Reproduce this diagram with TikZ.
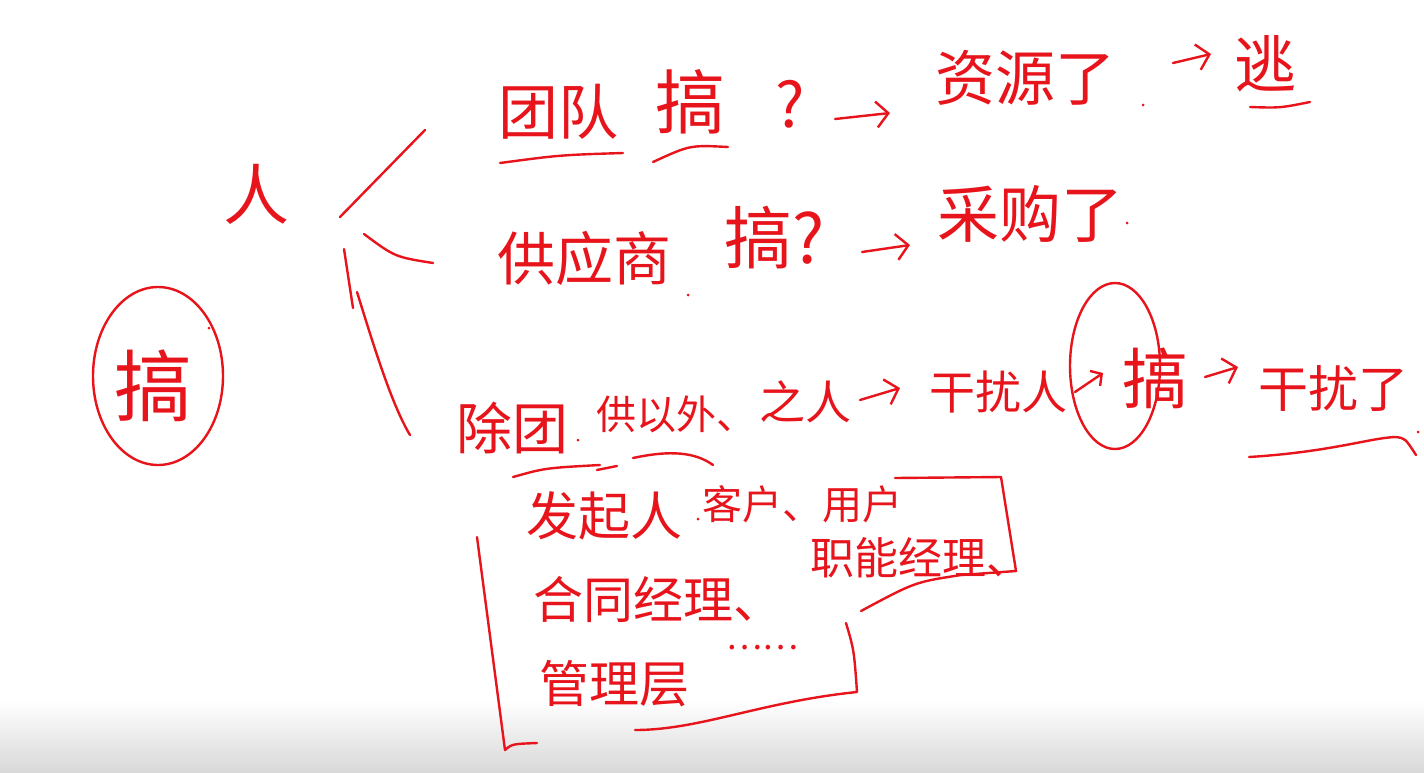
\documentclass[tikz,border=0pt]{standalone}
\usepackage{fontspec}
\newfontfamily\cjk{Noto Sans CJK SC}
\usetikzlibrary{arrows.meta,shapes.geometric}
\definecolor{ink}{HTML}{E8141C}
\begin{document}
\begin{tikzpicture}[x=1pt,y=-1pt,
  txt/.style={inner sep=0pt, text=ink, font=\cjk\fontsize{#1}{#1}\selectfont},
  txt/.default=44,
  stroke/.style={draw=ink, line width=2.4pt, line cap=round, line join=round},
  harrow/.style={stroke, -{Straight Barb[length=12pt,width=26pt,line width=2.4pt]}},
  spot/.style={fill=ink, circle, inner sep=0pt, minimum size=3pt}]
\useasboundingbox (0,0) rectangle (1424,772);
\fill[white] (0,0) rectangle (1424,772);
\shade[top color=white, bottom color=black!15] (0,700) rectangle (1424,772);

% central topic
\node[txt=78] (gao) at (153,386) {搞};
\node[ellipse, stroke, minimum width=130pt, minimum height=178pt] (gaoring) at (158,376) {};
\node[spot] (d0) at (209,328) {};
\node[txt=66] (ren) at (256,194) {人};

% branch strokes
\coordinate (b1s) at (340,217); \coordinate (b1e) at (425,130);
\coordinate (b2s) at (364,234); \coordinate (b2e) at (433,263);
\coordinate (b3s) at (344,249); \coordinate (b3m) at (353,308);
\coordinate (b4s) at (357,292); \coordinate (b3e) at (410,435);
\draw[stroke] (b1s) -- (b1e);
\draw[stroke] (b2s) .. controls (395,257) .. (b2e);
\draw[stroke] (b3s) -- (b3m);
\draw[stroke] (b4s) .. controls (375,350) and (392,405) .. (b3e);

% row 1
\node[txt=60] (td) at (558,112) {团队};
\node[txt=70] (g1) at (690,102) {搞};
\node[txt=62] (q1) at (790,104) {?};
\node[txt=60] (zy) at (1025,78) {资源了};
\node[spot] (d1) at (1143,105) {};
\node[txt=62] (tao) at (1265,64) {逃};
\draw[stroke] (500,163) .. controls (560,155) .. (623,153);
\draw[stroke] (653,162) .. controls (690,145) .. (728,147);
\draw[stroke] (1250,107) .. controls (1280,108) .. (1310,102);
\coordinate (a1s) at (835,119); \coordinate (a1e) at (890,113);
\coordinate (a2s) at (1173,63); \coordinate (a2e) at (1211,54);
\draw[harrow] (a1s) -- (a1e);
\draw[harrow] (a2s) -- (a2e);

% row 2
\node[txt=58] (gys) at (584,258) {供应商};
\node[spot] (d2) at (688,295) {};
\node[txt=68] (g2) at (775,238) {搞?};
\node[txt=62] (cg) at (1030,214) {采购了};
\node[spot] (d3) at (1127,223) {};
\coordinate (a3s) at (862,252); \coordinate (a3e) at (910,245);
\draw[harrow] (a3s) -- (a3e);

% row 3
\node[txt=56] (ct) at (512,428) {除团};
\node[spot] (d4) at (578,440) {};
\node[txt=40] (gyw) at (676,414) {供以外、};
\node[txt=46] (zr) at (805,402) {之人};
\node[txt=46] (grr) at (998,392) {干扰人};
\node[ellipse, stroke, minimum width=90pt, minimum height=166pt] (g3ring) at (1115,366) {};
\node[txt=66] (g3) at (1155,378) {搞};
\node[txt=50] (grl) at (1333,388) {干扰了};
\node[spot] (d5) at (1418,432) {};
\draw[stroke] (513,477) .. controls (545,468) .. (600,465);
\draw[stroke] (597,470) -- (617,466);
\draw[stroke] (633,458) .. controls (670,450) and (695,452) .. (713,465);
\draw[stroke] (1249,457) .. controls (1330,452) and (1370,438) .. (1395,437) .. controls (1405,438) .. (1416,455);
\coordinate (a4s) at (860,400); \coordinate (a4e) at (900,388);
\coordinate (a5s) at (1075,392); \coordinate (a5e) at (1103,373);
\coordinate (a6s) at (1205,377); \coordinate (a6e) at (1238,367);
\draw[harrow] (a4s) -- (a4e);
\draw[harrow, -{Straight Barb[length=8pt,width=18pt,line width=2.4pt]}] (a5s) -- (a5e);
\draw[harrow] (a6s) -- (a6e);

% group of other people
\node[txt=52] (fqr) at (604,516) {发起人};
\node[spot] (d6) at (698,519) {};
\node[txt=40] (kh) at (802,504) {客户、用户};
\node[txt=50] (htjl) at (658,599) {合同经理、};
\node[txt=44] (znjl) at (920,558) {职能经理、};
\node[txt=50] (gly) at (614,684) {管理层};
\node[txt=34] (dots) at (762,648) {……};

\coordinate (k1) at (895,478); \coordinate (k2) at (1001,477);
\coordinate (k3) at (1016,571); \coordinate (k4) at (961,575);
\coordinate (k5) at (861,611);
\draw[stroke] (k1) -- (k2) -- (k3) -- (k4) .. controls (915,582) .. (k5);
\coordinate (l1) at (477,537); \coordinate (l2) at (505,750);
\coordinate (l3) at (537,743);
\draw[stroke] (l1) -- (l2) .. controls (512,744) .. (l3);
\coordinate (m1) at (846,623); \coordinate (m2) at (857,692);
\coordinate (m3) at (635,730);
\draw[stroke] (m1) .. controls (854,650) .. (m2) .. controls (760,702) and (700,730) .. (m3);
\end{tikzpicture}
\end{document}
